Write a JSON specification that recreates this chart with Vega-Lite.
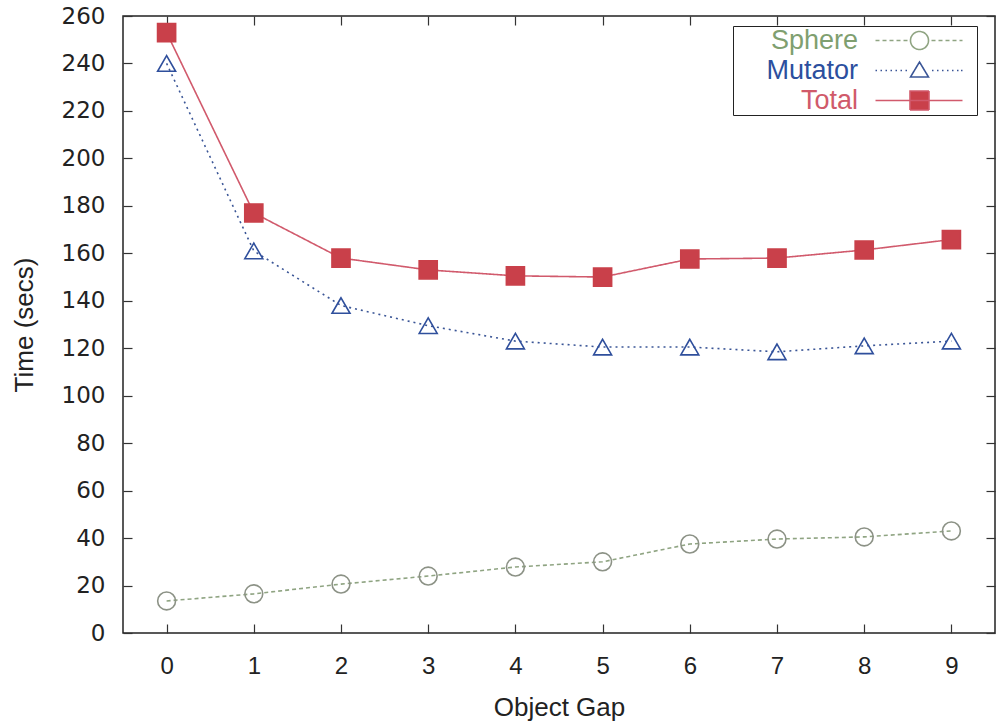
{
  "$schema": "https://vega.github.io/schema/vega-lite/v6.json",
  "width": 872,
  "height": 617,
  "autosize": "none",
  "padding": {"left": 123, "top": 16, "right": 1, "bottom": 95},
  "background": "white",
  "config": {
    "view": {"stroke": "#222222", "strokeWidth": 1.5},
    "axis": {
      "domain": false,
      "grid": false,
      "tickSize": -9,
      "tickColor": "#333333",
      "tickWidth": 1.2,
      "labelColor": "#222222",
      "titleColor": "#222222",
      "titleFontWeight": "normal",
      "labelFont": "Liberation Sans",
      "titleFont": "Liberation Sans"
    }
  },
  "data": {
    "values": [
      {"gap": 0, "series": "Sphere", "time": 13.5},
      {"gap": 1, "series": "Sphere", "time": 16.5},
      {"gap": 2, "series": "Sphere", "time": 20.6},
      {"gap": 3, "series": "Sphere", "time": 24},
      {"gap": 4, "series": "Sphere", "time": 27.8},
      {"gap": 5, "series": "Sphere", "time": 30},
      {"gap": 6, "series": "Sphere", "time": 37.5},
      {"gap": 7, "series": "Sphere", "time": 39.6},
      {"gap": 8, "series": "Sphere", "time": 40.5},
      {"gap": 9, "series": "Sphere", "time": 43},
      {"gap": 0, "series": "Mutator", "time": 240},
      {"gap": 1, "series": "Mutator", "time": 161},
      {"gap": 2, "series": "Mutator", "time": 138},
      {"gap": 3, "series": "Mutator", "time": 129.5},
      {"gap": 4, "series": "Mutator", "time": 123},
      {"gap": 5, "series": "Mutator", "time": 120.5},
      {"gap": 6, "series": "Mutator", "time": 120.5},
      {"gap": 7, "series": "Mutator", "time": 118.5},
      {"gap": 8, "series": "Mutator", "time": 121},
      {"gap": 9, "series": "Mutator", "time": 123},
      {"gap": 0, "series": "Total", "time": 253},
      {"gap": 1, "series": "Total", "time": 177},
      {"gap": 2, "series": "Total", "time": 158},
      {"gap": 3, "series": "Total", "time": 153},
      {"gap": 4, "series": "Total", "time": 150.5},
      {"gap": 5, "series": "Total", "time": 150},
      {"gap": 6, "series": "Total", "time": 157.6},
      {"gap": 7, "series": "Total", "time": 158},
      {"gap": 8, "series": "Total", "time": 161.4},
      {"gap": 9, "series": "Total", "time": 165.8}
    ]
  },
  "layer": [
    {
      "mark": {"type": "line", "strokeWidth": 1.6},
      "encoding": {
        "x": {
          "field": "gap", "type": "quantitative",
          "scale": {"domain": [-0.5, 9.5], "nice": false, "zero": false},
          "axis": {"orient": "bottom", "values": [0,1,2,3,4,5,6,7,8,9], "title": "Object Gap",
                   "labelFontSize": 24, "labelPadding": 30, "titleFontSize": 26, "titlePadding": 16, "labelFlush": false}
        },
        "y": {
          "field": "time", "type": "quantitative",
          "scale": {"domain": [0, 260], "nice": false},
          "axis": {"orient": "left", "values": [0,20,40,60,80,100,120,140,160,180,200,220,240,260], "title": "Time (secs)",
                   "labelFont": "DejaVu Sans", "labelFontSize": 23, "labelPadding": 27, "titleFontSize": 26, "titlePadding": 24}
        },
        "color": {
          "field": "series", "type": "nominal",
          "scale": {"domain": ["Sphere", "Mutator", "Total"], "range": ["#8fa482", "#3a5596", "#d15a6c"]},
          "legend": {
            "title": null,
            "orient": "none",
            "legendX": 610,
            "legendY": 10,
            "strokeColor": "#222222",
            "fillColor": "white",
            "padding": 1,
            "symbolSize": 400,
            "labelFont": "Liberation Sans",
            "labelFontSize": 27,
            "labelAlign": "right",
            "labelOffset": 97,
            "rowPadding": 2,
            "labelLimit": 300,
            "encode": {
              "symbols": {
                "update": {
                  "shape": {"signal": "datum.value === 'Sphere' ? 'M12.8,0H13.2M13.5,0H13.9M14.2,0H14.6M14.9,0H15.3M15.6,0H16.0M18.4,0H18.8M19.1,0H19.5M19.8,0H20.2M20.5,0H20.9M21.2,0H21.5M18.1,0A0.9,0.9 0 1,1 16.3,0A0.9,0.9 0 1,1 18.1,0ZM22.5,0' : datum.value === 'Mutator' ? 'M12.8,0H12.95M13.3,0H13.45M13.8,0H13.95M14.3,0H14.45M14.8,0H14.95M15.3,0H15.45M15.8,0H15.95M18.45,0H18.6M18.95,0H19.1M19.45,0H19.6M19.95,0H20.1M20.45,0H20.6M20.95,0H21.1M21.35,0H21.5M17.2,-0.85L18.1,0.65L16.3,0.65ZM22.5,0' : 'M12.8,0H21.5M16.25,-0.95H18.15V0.95H16.25ZM22.5,0'"},
                  "size": {"value": 400},
                  "fill": {"signal": "datum.value === 'Total' ? '#c9404a' : 'transparent'"},
                  "stroke": {"signal": "datum.value === 'Sphere' ? '#8c9286' : datum.value === 'Mutator' ? '#2f4f9c' : '#c9404a'"},
                  "strokeWidth": {"value": 1.6},
                  "strokeDash": {"value": [1, 0]},
                  "opacity": {"value": 1}
                }
              },
              "labels": {
                "update": {
                  "fill": {"signal": "datum.value === 'Sphere' ? '#7f9f70' : datum.value === 'Mutator' ? '#2c4f9e' : '#d05a6a'"}
                }
              }
            }
          }
        },
        "strokeDash": {
          "field": "series", "type": "nominal",
          "scale": {"domain": ["Sphere", "Mutator", "Total", "_"], "range": [[4, 3], [2, 4], [1, 0], [1, 0]]},
          "legend": null
        }
      }
    },
    {
      "mark": {"type": "point", "filled": false, "strokeWidth": 1.6, "opacity": 1},
      "encoding": {
        "x": {"field": "gap", "type": "quantitative", "axis": null},
        "y": {"field": "time", "type": "quantitative", "axis": null},
        "shape": {
          "field": "series", "type": "nominal",
          "scale": {"domain": ["Sphere", "Mutator", "Total", "_"], "range": ["circle", "triangle-up", "square", "circle"]},
          "legend": null
        },
        "size": {
          "field": "series", "type": "nominal",
          "scale": {"domain": ["Sphere", "Mutator", "Total", "_"], "range": [320, 330, 400, 300]},
          "legend": null
        },
        "stroke": {
          "field": "series", "type": "nominal",
          "scale": {"domain": ["Sphere", "Mutator", "Total", "_"], "range": ["#8c9286", "#2f4f9c", "#c9404a", "#000000"]},
          "legend": null
        },
        "fill": {
          "field": "series", "type": "nominal",
          "scale": {"domain": ["Sphere", "Mutator", "Total", "_"], "range": ["transparent", "transparent", "#c9404a", "transparent"]},
          "legend": null
        }
      }
    },
    {
      "mark": {"type": "point", "opacity": 0},
      "encoding": {
        "x": {
          "field": "gap", "type": "quantitative",
          "axis": {"orient": "top", "values": [0,1,2,3,4,5,6,7,8,9], "labels": false, "title": null}
        },
        "y": {
          "field": "time", "type": "quantitative",
          "axis": {"orient": "right", "values": [0,20,40,60,80,100,120,140,160,180,200,220,240,260], "labels": false, "title": null}
        }
      }
    }
  ],
  "resolve": {
    "axis": {"x": "independent", "y": "independent"}
  }
}
